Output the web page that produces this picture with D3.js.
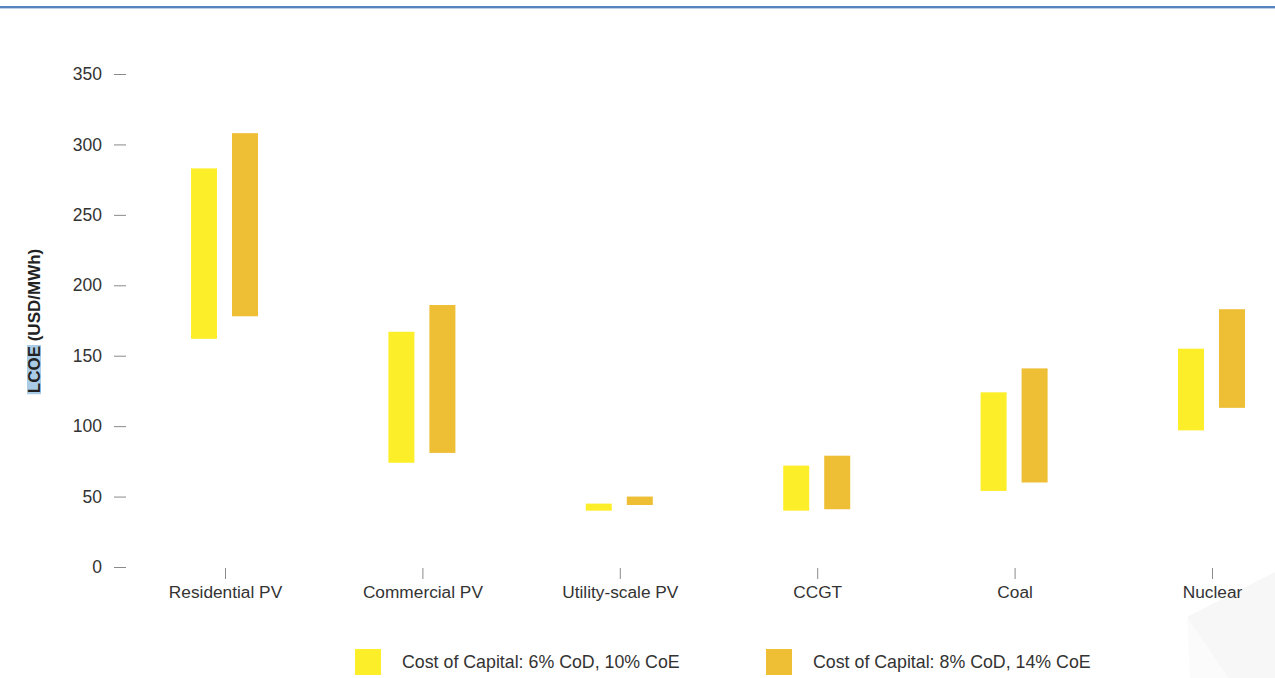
<!DOCTYPE html>
<html>
<head>
<meta charset="utf-8">
<script src="https://cdn.jsdelivr.net/npm/d3@7"></script>
<style>
  html, body { margin: 0; padding: 0; background: #fff; }
  svg { display: block; font-family: "Liberation Sans", Arial, Helvetica, sans-serif; }
</style>
</head>
<body>
<svg id="chart" width="1275" height="678"></svg>
<script>
// ---- Data ----
const categories = ["Residential PV", "Commercial PV", "Utility-scale PV", "CCGT", "Coal", "Nuclear"];
const seriesNames = ["Cost of Capital: 6% CoD, 10% CoE", "Cost of Capital: 8% CoD, 14% CoE"];
const lowRateMin  = [162, 74, 40, 40, 54, 97];
const lowRateMax  = [283, 167, 45, 72, 124, 155];
const highRateMin = [178, 81, 44, 41, 60, 113];
const highRateMax = [308, 186, 50, 79, 141, 183];
const yTicks = [0, 50, 100, 150, 200, 250, 300, 350];
const yTitle = "LCOE (USD/MWh)";
const colors = ["#fdee2a", "#eebe34"];

const svg = d3.select("#chart");

// decorative faint shape bottom-right
svg.append("polygon")
  .attr("points", "1187,617 1275,572 1275,678 1228,678")
  .attr("fill", "#f7f7f7");
svg.append("polygon")
  .attr("points", "1187,617 1228,678 1190,678")
  .attr("fill", "#fbfbfb");

// top rule
svg.append("rect").attr("x", 0).attr("y", 6).attr("width", 1275).attr("height", 2).attr("fill", "#5583bf");
svg.append("rect").attr("x", 0).attr("y", 8).attr("width", 1275).attr("height", 1).attr("fill", "#bcd0e8");

// scales
const y = d3.scaleLinear().domain([0, 350]).range([567, 74]);
const x = d3.scalePoint().domain(categories).range([225, 1212]);
const x1 = d3.scaleBand().domain([0, 1]).range([-34, 33]).paddingInner(0.366).paddingOuter(0);

// y axis
const yAxis = svg.append("g").attr("transform", "translate(126,0)")
  .call(d3.axisLeft(y).tickValues(yTicks).tickSize(12).tickPadding(12).tickFormat(d3.format("d")));
yAxis.select(".domain").remove();
yAxis.selectAll(".tick line").attr("stroke", "#8a8a8a").attr("stroke-width", 1);
yAxis.selectAll(".tick text").attr("fill", "#333").style("font-size", "17.5px")
  .style("font-family", "'Liberation Sans', Arial, sans-serif");

// x axis
const xAxis = svg.append("g").attr("transform", "translate(0,568)")
  .call(d3.axisBottom(x).tickSize(11).tickPadding(7));
xAxis.select(".domain").remove();
xAxis.selectAll(".tick line").attr("stroke", "#8a8a8a").attr("stroke-width", 1);
xAxis.selectAll(".tick text").attr("fill", "#333").style("font-size", "17.3px")
  .style("font-family", "'Liberation Sans', Arial, sans-serif");

// y title with highlight on "LCOE"
const titleG = svg.append("g").attr("transform", "translate(34,321) rotate(-90)");
const hl = titleG.append("rect").attr("fill", "#a9cbe5");
const tTitle = titleG.append("text")
  .attr("text-anchor", "middle").attr("dy", "0.35em")
  .attr("fill", "#222").style("font-size", "17px").style("font-weight", "bold")
  .text(yTitle);
try {
  const total = tTitle.node().getComputedTextLength();
  const sub = tTitle.node().getSubStringLength(0, 4);
  hl.attr("x", -total / 2 - 1).attr("y", -7).attr("width", sub + 2).attr("height", 14);
} catch (e) {}

// bars
const data = categories.map((c, i) => ({
  cat: c,
  vals: [
    { s: 0, lo: lowRateMin[i], hi: lowRateMax[i] },
    { s: 1, lo: highRateMin[i], hi: highRateMax[i] }
  ]
}));
const groups = svg.append("g").selectAll("g").data(data).join("g")
  .attr("transform", d => `translate(${x(d.cat)},0)`);
groups.selectAll("rect").data(d => d.vals).join("rect")
  .attr("x", d => x1(d.s))
  .attr("width", x1.bandwidth())
  .attr("y", d => y(d.hi))
  .attr("height", d => y(d.lo) - y(d.hi))
  .attr("fill", d => colors[d.s]);

// legend
const legendX = [355, 766];
const leg = svg.append("g").selectAll("g").data(seriesNames).join("g")
  .attr("transform", (d, i) => `translate(${legendX[i]},649)`);
leg.append("rect").attr("width", 26).attr("height", 26).attr("fill", (d, i) => colors[i]);
leg.append("text").attr("x", 47).attr("y", 13).attr("dy", "0.35em")
  .attr("fill", "#333").style("font-size", "17.8px").text(d => d);
</script>
</body>
</html>
